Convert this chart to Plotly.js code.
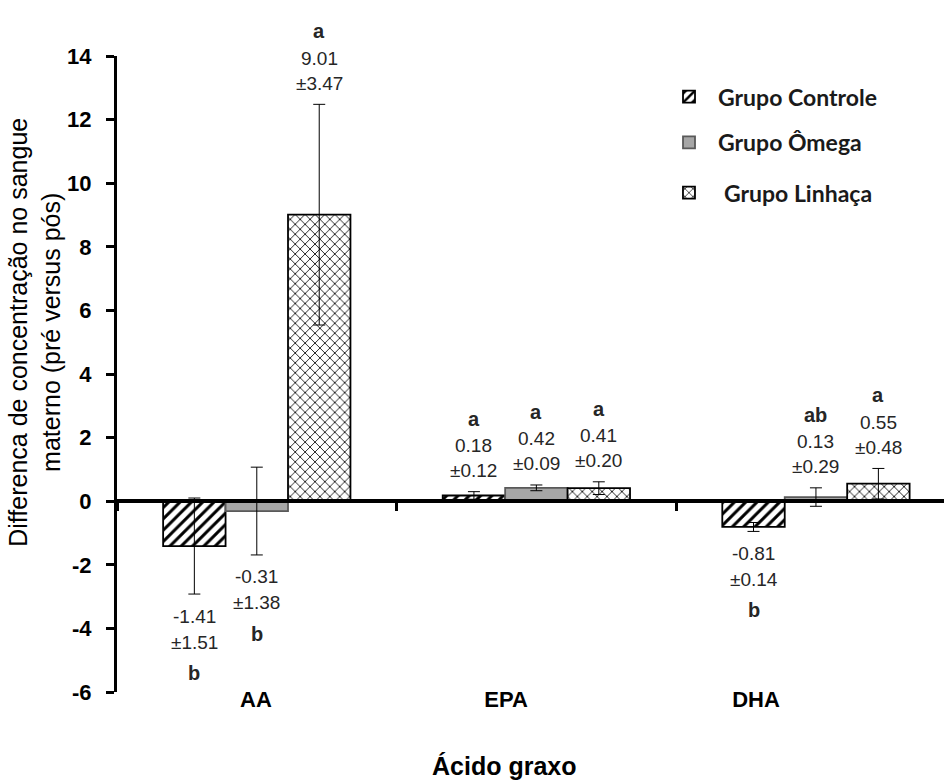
<!DOCTYPE html>
<html>
<head>
<meta charset="utf-8">
<script src="https://cdn.plot.ly/plotly-3.0.1.min.js"></script>
<style>html,body{margin:0;padding:0;background:#fff;}#chart{width:944px;height:781px;}</style>
</head>
<body>
<div id="chart"></div>
<script>
// ---- data ----
const categories = ['AA', 'EPA', 'DHA'];
const seriesNames = ['Grupo Controle', 'Grupo Ômega', 'Grupo Linhaça'];
const controleMean = [-1.41, 0.18, -0.81];
const controleSD = [1.51, 0.12, 0.14];
const controleLetters = ['b', 'a', 'b'];
const omegaMean = [-0.31, 0.42, 0.13];
const omegaSD = [1.38, 0.09, 0.29];
const omegaLetters = ['b', 'a', 'ab'];
const linhacaMean = [9.01, 0.41, 0.55];
const linhacaSD = [3.47, 0.20, 0.48];
const linhacaLetters = ['a', 'a', 'a'];
const yTicks = [-6, -4, -2, 0, 2, 4, 6, 8, 10, 12, 14];
const yTitle = 'Differenca de concentração no sangue<br>materno (pré versus pós)';
const xTitle = 'Ácido graxo';

// ---- styles ----
const FONT = 'Liberation Sans, Arial, sans-serif';
const LEGFONT = 'Lato, Calibri, sans-serif';
const BARGAP = 0.33;
const styles = [
  {color: '#ffffff', line: '#000000', pattern: {shape: '/', size: 8, solidity: 0.38, fgcolor: '#000000', bgcolor: '#ffffff'}},
  {color: '#a6a6a6', line: '#595959', pattern: null},
  {color: '#ffffff', line: '#000000', pattern: {shape: 'x', size: 7, solidity: 0.25, fgcolor: '#1a1a1a', bgcolor: '#ffffff'}}
];
const means = [controleMean, omegaMean, linhacaMean];
const sds = [controleSD, omegaSD, linhacaSD];
const letters = [controleLetters, omegaLetters, linhacaLetters];
const legendYs = [0.936, 0.864, 0.785];
const legendXs = [0.6566, 0.6566, 0.6493];
const legendItemW = [48, 48, 60];

const traces = [];
means.forEach((m, j) => {
  const marker = {color: styles[j].color, line: {color: styles[j].line, width: 1.8}};
  if (styles[j].pattern) marker.pattern = styles[j].pattern;
  traces.push({
    type: 'bar', name: seriesNames[j], x: categories, y: m,
    xaxis: 'x', yaxis: 'y',
    marker: marker,
    error_y: {type: 'data', array: sds[j], visible: true, color: '#000000', thickness: 1, width: 6},
    legend: j === 0 ? 'legend' : 'legend' + (j + 1),
    hoverinfo: 'skip'
  });
});
// invisible trace carrying the category label axis
traces.push({type: 'scatter', mode: 'markers', x: categories, y: [null, null, null], xaxis: 'x2', yaxis: 'y', showlegend: false, hoverinfo: 'skip'});

// ---- annotations (text derived from data) ----
const annotations = [];
const barW = (1 - BARGAP) / 3;
const valFont = {family: FONT, size: 19, color: '#262626'};
const letFont = {family: FONT, size: 20, color: '#262626', weight: 'bold'};
means.forEach((m, j) => {
  m.forEach((v, i) => {
    const xpos = i + (j - 1) * barW;
    const sd = sds[j][i];
    const valTxt = v.toFixed(2);
    const sdTxt = '±' + sd.toFixed(2);
    if (v >= 0) {
      const yEnd = v + sd;
      annotations.push({x: xpos, y: yEnd, xref: 'x', yref: 'y', text: sdTxt, showarrow: false, yanchor: 'middle', yshift: 21, font: valFont});
      annotations.push({x: xpos, y: yEnd, xref: 'x', yref: 'y', text: valTxt, showarrow: false, yanchor: 'middle', yshift: 46, font: valFont});
      annotations.push({x: xpos, y: yEnd, xref: 'x', yref: 'y', text: letters[j][i], showarrow: false, yanchor: 'middle', yshift: 73, font: letFont});
    } else {
      const yEnd = v - sd;
      annotations.push({x: xpos, y: yEnd, xref: 'x', yref: 'y', text: valTxt, showarrow: false, yanchor: 'middle', yshift: -22, font: valFont});
      annotations.push({x: xpos, y: yEnd, xref: 'x', yref: 'y', text: sdTxt, showarrow: false, yanchor: 'middle', yshift: -48, font: valFont});
      annotations.push({x: xpos, y: yEnd, xref: 'x', yref: 'y', text: letters[j][i], showarrow: false, yanchor: 'middle', yshift: -79, font: letFont});
    }
  });
});
annotations.push({xref: 'paper', yref: 'paper', x: -0.099, y: 0.565, text: yTitle, textangle: -90, showarrow: false,
  xanchor: 'center', yanchor: 'middle', font: {family: FONT, size: 25, color: '#000000'}});
annotations.push({xref: 'paper', yref: 'paper', x: 0.468, y: -0.116, text: xTitle, showarrow: false,
  xanchor: 'center', yanchor: 'middle', font: {family: FONT, size: 25, color: '#000000', weight: 'bold'}});

function legendBox(k) {
  return {x: legendXs[k], y: legendYs[k], xanchor: 'left', yanchor: 'middle', bgcolor: 'rgba(0,0,0,0)', borderwidth: 0,
    font: {family: LEGFONT, size: 23, color: '#1a1a1a', weight: 'bold'}, itemwidth: legendItemW[k], itemclick: false, itemdoubleclick: false};
}

const layout = {
  width: 944, height: 781,
  margin: {l: 117, r: 0, t: 56, b: 89},
  paper_bgcolor: '#ffffff', plot_bgcolor: '#ffffff',
  font: {family: FONT, color: '#000000'},
  barmode: 'group', bargap: BARGAP, bargroupgap: 0,
  xaxis: {type: 'category', range: [-0.5, 2.458], anchor: 'free', position: 0.3,
    showline: true, linewidth: 4, linecolor: '#000000', ticks: 'outside', tickson: 'boundaries',
    ticklen: 8, tickwidth: 3, tickcolor: '#000000', showticklabels: false, showgrid: false, zeroline: false, fixedrange: true},
  xaxis2: {type: 'category', overlaying: 'x', anchor: 'free', position: 0.012, range: [-0.556, 2.752],
    showline: false, ticks: '', showgrid: false, zeroline: false,
    tickfont: {family: FONT, size: 22, color: '#000000', weight: 'bold'}, fixedrange: true},
  yaxis: {range: [-6, 14], tickmode: 'array', tickvals: yTicks, ticktext: yTicks.map(String),
    showline: true, linewidth: 3, linecolor: '#000000',
    ticks: 'outside', ticklen: 8, tickwidth: 3, tickcolor: '#000000', ticklabelstandoff: 10,
    showgrid: false, zeroline: false, tickfont: {family: FONT, size: 22, color: '#000000', weight: 'bold'}, fixedrange: true},
  legend: legendBox(0),
  legend2: legendBox(1),
  legend3: legendBox(2),
  annotations: annotations,
  showlegend: true
};

Plotly.newPlot('chart', traces, layout, {displayModeBar: false, staticPlot: true});
</script>
</body>
</html>
